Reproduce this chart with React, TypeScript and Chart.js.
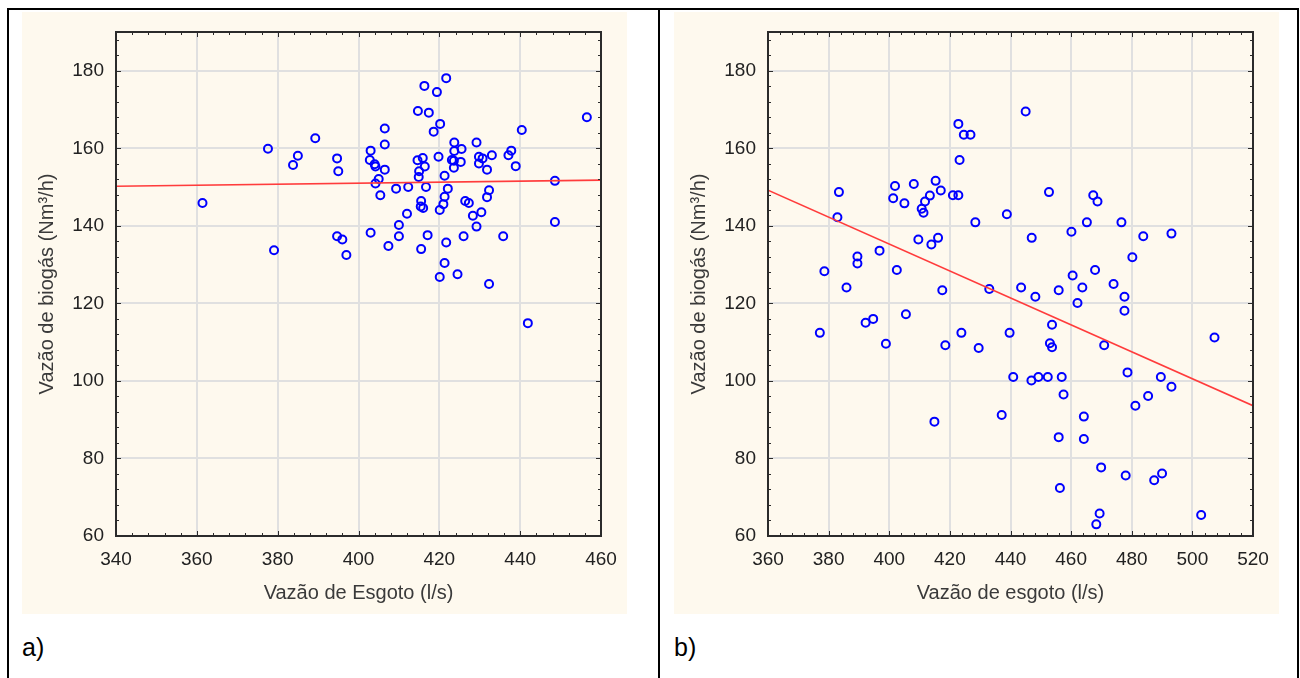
import React, { useEffect, useRef } from "react";
import { Chart, registerables } from "chart.js";

Chart.register(...registerables);

const FONT = '"Liberation Sans", Arial, Helvetica, sans-serif';
const CREAM = "#fef9ee";

// ---------- Panel a) ----------
const xA = [
  361.4, 377.6, 379.1, 383.8, 385.0, 389.3, 394.7, 395.0, 394.7, 396.0, 397.0,
  421.7, 416.3, 419.4, 414.7, 417.4, 420.2, 406.5, 418.6, 440.4, 456.5, 406.5,
  423.7, 429.2, 403.0, 425.5, 423.7, 437.8, 437.1, 419.8, 433.0, 415.9, 414.6,
  402.8, 423.1, 429.8, 430.7, 429.8, 425.3, 423.6, 423.6, 404.0, 404.2, 416.4,
  406.5, 415.0, 431.8, 438.9, 414.9, 421.3, 405.0, 404.2, 409.3, 412.3, 416.7,
  422.1, 448.6, 405.4, 432.3, 421.3, 431.8, 415.5, 415.4, 416.0, 426.4, 427.3,
  421.0, 420.1, 430.4, 412.0, 428.3, 410.0, 448.6, 429.2, 403.0, 410.0, 417.1,
  426.0, 435.8, 407.4, 415.5, 421.7, 421.3, 420.1, 424.5, 432.3, 441.9,
];
const yA = [
  145.9, 159.9, 133.7, 155.7, 158.1, 162.6, 157.4, 154.1, 137.3, 136.5, 132.5,
  178.1, 176.1, 174.5, 169.6, 169.2, 166.3, 165.1, 164.3, 164.7, 168.0, 161.0,
  161.5, 161.5, 159.4, 159.8, 159.3, 159.4, 158.2, 157.8, 158.2, 157.5, 156.9,
  157.0, 157.0, 157.8, 157.4, 156.1, 156.5, 156.8, 155.0, 155.9, 155.3, 155.3,
  154.5, 154.1, 154.5, 155.4, 152.6, 152.9, 152.1, 150.9, 149.6, 150.0, 150.0,
  149.6, 151.6, 147.9, 149.2, 147.5, 147.4, 146.4, 145.0, 144.6, 146.4, 145.9,
  145.6, 144.1, 143.5, 143.1, 142.6, 140.2, 141.0, 139.8, 138.2, 137.3, 137.6,
  137.3, 137.3, 134.8, 134.0, 135.7, 130.4, 126.8, 127.5, 125.0, 114.9,
];
const fitXA = [340, 460];
const fitYA = [150.2, 151.8];
const xTicksA = [340, 360, 380, 400, 420, 440, 460];

// ---------- Panel b) ----------
const xB = [
  422.8, 424.6, 426.8, 423.2, 383.4, 401.9, 408.1, 415.3, 401.3, 405.0, 417.0,
  413.4, 411.8, 410.7, 411.3, 421.0, 422.8, 438.8, 428.4, 382.9, 409.6, 416.1,
  413.9, 396.8, 389.5, 389.5, 378.6, 402.5, 385.9, 417.5, 433.0, 394.7, 405.5,
  445.0, 452.7, 467.3, 468.7, 447.0, 460.1, 465.2, 476.6, 483.8, 493.1, 480.2,
  467.9, 460.5, 443.5, 448.2, 455.9, 463.7, 474.0, 477.6, 462.1, 477.6, 377.1,
  392.2, 398.9, 418.5, 423.8, 429.5, 439.7, 414.9, 437.1, 453.7, 453.0, 453.7,
  470.9, 507.3, 440.9, 446.9, 449.2, 452.3, 456.9, 457.5, 478.6, 489.6, 493.1,
  485.4, 481.2, 464.2, 455.9, 464.2, 469.9, 478.0, 487.4, 490.0, 456.3, 469.4,
  468.3, 502.9,
];
const yB = [
  166.3, 163.5, 163.5, 157.0, 148.7, 150.3, 150.8, 151.6, 147.1, 145.8, 149.1,
  147.8, 146.3, 144.4, 143.4, 147.9, 147.9, 143.0, 140.9, 142.2, 136.5, 136.9,
  135.2, 133.6, 132.1, 130.3, 128.3, 128.6, 124.1, 123.4, 123.7, 116.0, 117.2,
  169.5, 148.7, 147.9, 146.3, 136.9, 138.5, 140.9, 140.9, 137.3, 138.0, 131.9,
  128.6, 127.2, 124.1, 121.7, 123.4, 124.1, 125.0, 121.7, 120.1, 118.1, 112.4,
  115.0, 109.6, 109.2, 112.4, 108.5, 112.4, 89.5, 91.2, 114.5, 109.7, 108.7,
  109.2, 111.2, 101.0, 100.1, 101.0, 101.0, 101.0, 96.5, 102.2, 101.0, 98.5,
  96.1, 93.6, 90.8, 85.5, 85.0, 77.7, 75.6, 74.4, 76.1, 72.4, 65.8,
  63.0, 65.4,
];
const fitXB = [360, 520];
const fitYB = [149.2, 93.6];
const xTicksB = [360, 380, 400, 420, 440, 460, 480, 500, 520];

// ---------- shared axis ----------
const yTicks = [60, 80, 100, 120, 140, 160, 180];
const yMin = 60;
const yMax = 190;
const minorStep = 4;
const yTitle = "Vazão de biogás (Nm³/h)";

function makeFrame(xMajor: number[], yMajor: number[]) {
  return {
    id: "frame",
    afterDraw(chart: any) {
      const { ctx, chartArea: a, scales } = chart;
      const xs = scales.x;
      const ys = scales.y;
      ctx.save();
      ctx.strokeStyle = "#2b2b2b";
      ctx.lineWidth = 1;
      ctx.beginPath();
      for (let v = xs.min; v <= xs.max + 1e-6; v += minorStep) {
        const major = xMajor.some((m) => Math.abs(m - v) < 1e-6);
        const len = major ? 5 : 3;
        const p = Math.round(xs.getPixelForValue(v)) + 0.5;
        ctx.moveTo(p, a.bottom);
        ctx.lineTo(p, a.bottom - len);
        ctx.moveTo(p, a.top);
        ctx.lineTo(p, a.top + len);
      }
      for (let v = ys.min; v <= ys.max + 1e-6; v += minorStep) {
        const major = yMajor.some((m) => Math.abs(m - v) < 1e-6);
        const len = major ? 5 : 3;
        const p = Math.round(ys.getPixelForValue(v)) + 0.5;
        ctx.moveTo(a.left, p);
        ctx.lineTo(a.left + len, p);
        ctx.moveTo(a.right, p);
        ctx.lineTo(a.right - len, p);
      }
      ctx.stroke();
      ctx.lineWidth = 2;
      ctx.strokeStyle = "#2b2b2b";
      ctx.strokeRect(a.left, a.top, a.right - a.left, a.bottom - a.top);
      ctx.restore();
    },
  };
}

type PanelProps = {
  left: number;
  xs: number[];
  ys: number[];
  fitX: number[];
  fitY: number[];
  xTicks: number[];
  xTitle: string;
  label: string;
};

function Panel({ left, xs, ys, fitX, fitY, xTicks, xTitle, label }: PanelProps) {
  const ref = useRef<HTMLCanvasElement>(null);
  useEffect(() => {
    if (!ref.current) return;
    const chart = new Chart(ref.current, {
      type: "scatter",
      data: {
        datasets: [
          {
            data: fitX.map((x, i) => ({ x, y: fitY[i] })),
            showLine: true,
            borderColor: "#ff3c3c",
            borderWidth: 1.6,
            pointRadius: 0,
            fill: false,
            order: 0,
          } as any,
          {
            data: xs.map((x, i) => ({ x, y: ys[i] })),
            pointRadius: 4,
            borderWidth: 2,
            borderColor: "#0000ff",
            backgroundColor: "rgba(0,0,0,0)",
            order: 1,
          },
        ],
      },
      options: {
        responsive: false,
        maintainAspectRatio: false,
        animation: false,
        devicePixelRatio: 1,
        layout: { padding: { top: 20, right: 26, left: 0, bottom: 0 } },
        plugins: { legend: { display: false }, tooltip: { enabled: false } },
        scales: {
          x: {
            type: "linear",
            min: xTicks[0],
            max: xTicks[xTicks.length - 1],
            afterBuildTicks: (s: any) => {
              s.ticks = xTicks.map((v) => ({ value: v }));
            },
            afterFit: (s: any) => {
              s.height = 78;
              s.paddingLeft = 0;
              s.paddingRight = 0;
              s.paddingTop = 0;
              s.paddingBottom = 0;
            },
            grid: { color: "#e0e0e0", lineWidth: 2, drawTicks: false },
            border: { display: false },
            ticks: {
              padding: 12,
              color: "#222222",
              autoSkip: false,
              maxRotation: 0,
              font: { family: FONT, size: 19 },
            },
            title: {
              display: true,
              text: xTitle,
              color: "#3a3a3a",
              font: { family: FONT, size: 20 },
              padding: { top: 0, bottom: 9 },
            },
          },
          y: {
            type: "linear",
            min: yMin,
            max: yMax,
            afterBuildTicks: (s: any) => {
              s.ticks = yTicks.map((v) => ({ value: v }));
            },
            afterFit: (s: any) => {
              s.width = 94;
              s.paddingLeft = 0;
              s.paddingRight = 0;
              s.paddingTop = 0;
              s.paddingBottom = 0;
            },
            grid: { color: "#e0e0e0", lineWidth: 2, drawTicks: false },
            border: { display: false },
            ticks: {
              padding: 12,
              color: "#222222",
              autoSkip: false,
              font: { family: FONT, size: 19 },
            },
            title: {
              display: true,
              text: yTitle,
              color: "#3a3a3a",
              font: { family: FONT, size: 20 },
              padding: { top: 13, bottom: 0 },
            },
          },
        },
      },
      plugins: [makeFrame(xTicks, yTicks)],
    } as any);
    return () => chart.destroy();
  }, []);

  return (
    <>
      <div
        style={{
          position: "absolute",
          left,
          top: 12,
          width: 605,
          height: 602,
          background: CREAM,
        }}
      >
        <canvas ref={ref} width={605} height={602} style={{ display: "block" }} />
      </div>
      <div
        style={{
          position: "absolute",
          left: left,
          top: 635,
          fontFamily: FONT,
          fontSize: 25,
          lineHeight: "25px",
          color: "#000",
        }}
      >
        {label}
      </div>
    </>
  );
}

export default function App() {
  return (
    <div
      style={{
        position: "fixed",
        left: 0,
        top: 0,
        width: 1300,
        height: 678,
        background: "#ffffff",
        overflow: "hidden",
      }}
    >
      <div style={{ position: "absolute", left: 7, top: 8, width: 1292, height: 2, background: "#000" }} />
      <div style={{ position: "absolute", left: 7, top: 8, width: 2, height: 670, background: "#000" }} />
      <div style={{ position: "absolute", left: 658, top: 8, width: 2, height: 670, background: "#000" }} />
      <div style={{ position: "absolute", left: 1297, top: 8, width: 2, height: 670, background: "#000" }} />
      <Panel
        left={22}
        xs={xA}
        ys={yA}
        fitX={fitXA}
        fitY={fitYA}
        xTicks={xTicksA}
        xTitle="Vazão de Esgoto (l/s)"
        label="a)"
      />
      <Panel
        left={674}
        xs={xB}
        ys={yB}
        fitX={fitXB}
        fitY={fitYB}
        xTicks={xTicksB}
        xTitle="Vazão de esgoto (l/s)"
        label="b)"
      />
    </div>
  );
}
